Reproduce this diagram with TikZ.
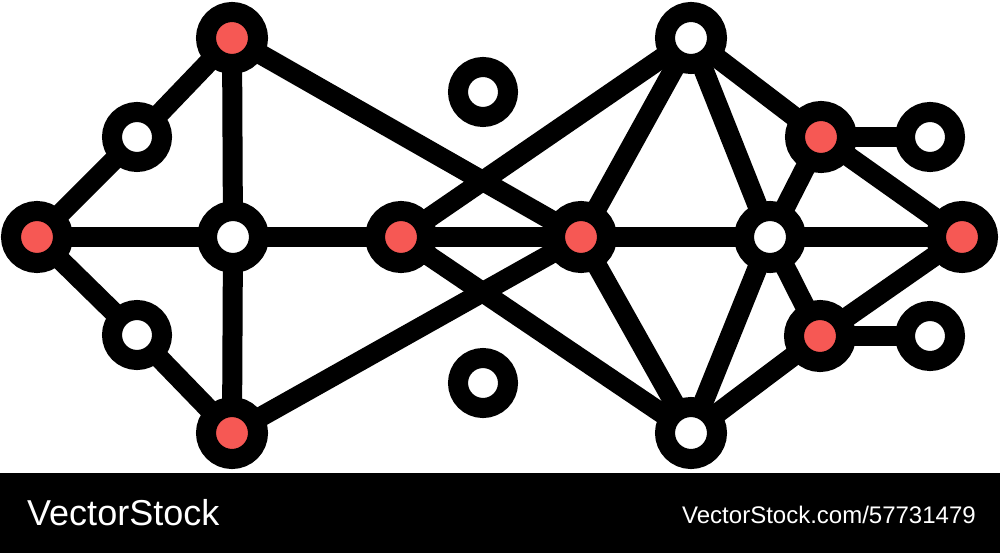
\documentclass[tikz,border=0pt]{standalone}
\usepackage{fontspec}
\setmainfont{Liberation Sans}
\usetikzlibrary{backgrounds}
\definecolor{dotred}{RGB}{246,88,84}
\tikzset{
  big/.style={circle, draw=black, line width=20pt, inner sep=0pt, minimum size=52pt},
  small/.style={circle, draw=black, line width=20pt, inner sep=0pt, minimum size=50pt, fill=white},
  redc/.style={big, fill=dotred},
  whitec/.style={big, fill=white},
  link/.style={line width=20pt, line cap=round, line join=round, black},
  wmtext/.style={text=white, inner sep=0pt, anchor=base west}
}
\begin{document}
\begin{tikzpicture}[x=1pt, y=-1pt]
\useasboundingbox (0,0) rectangle (1000,553);
% nodes
\node[redc]   (A) at (232,38) {};
\node[small]  (B) at (137,137) {};
\node[redc]   (C) at (37,237) {};
\node[whitec] (D) at (233,237) {};
\node[small]  (E) at (137,335) {};
\node[redc]   (F) at (232,433) {};
\node[small]  (G) at (483,92) {};
\node[small]  (H) at (483,383) {};
\node[redc]   (I) at (401,237) {};
\node[redc]   (J) at (581,237) {};
\node[whitec] (K) at (691,38) {};
\node[whitec] (L) at (691,433) {};
\node[whitec] (M) at (770,237) {};
\node[redc]   (N) at (821,137) {};
\node[small]  (O) at (930,137) {};
\node[redc]   (P) at (962,237) {};
\node[redc]   (Q) at (820,336) {};
\node[small]  (R) at (930,336) {};
% connectors
\begin{scope}[on background layer]
\fill[white] (0,0) rectangle (1000,553);
\draw[link] (C.center) -- (B.center) -- (A.center);
\draw[link] (C.center) -- (E.center) -- (F.center);
\draw[link] (A.center) -- (D.center) -- (F.center);
\draw[link] (C.center) -- (D.center) -- (I.center) -- (J.center) -- (M.center) -- (P.center);
\draw[link] (A.center) -- (J.center);
\draw[link] (F.center) -- (J.center);
\draw[link] (I.center) -- (K.center);
\draw[link] (I.center) -- (L.center);
\draw[link] (J.center) -- (K.center);
\draw[link] (J.center) -- (L.center);
\draw[link] (K.center) -- (M.center);
\draw[link] (L.center) -- (M.center);
\draw[link] (K.center) -- (N.center);
\draw[link] (L.center) -- (Q.center);
\draw[link] (N.center) -- (O.center);
\draw[link] (Q.center) -- (R.center);
\draw[link] (N.center) -- (P.center);
\draw[link] (Q.center) -- (P.center);
\draw[link] (M.center) -- (N.center);
\draw[link] (M.center) -- (Q.center);
\end{scope}
% bottom bar
\fill[black] (0,473) rectangle (1000,553);
\node[wmtext, font=\fontsize{36}{36}\selectfont] (wm1) at (27,525) {VectorStock};
\node[wmtext, font=\fontsize{24}{24}\selectfont] (wm2) at (682,523) {VectorStock.com/57731479};
\end{tikzpicture}
\end{document}
